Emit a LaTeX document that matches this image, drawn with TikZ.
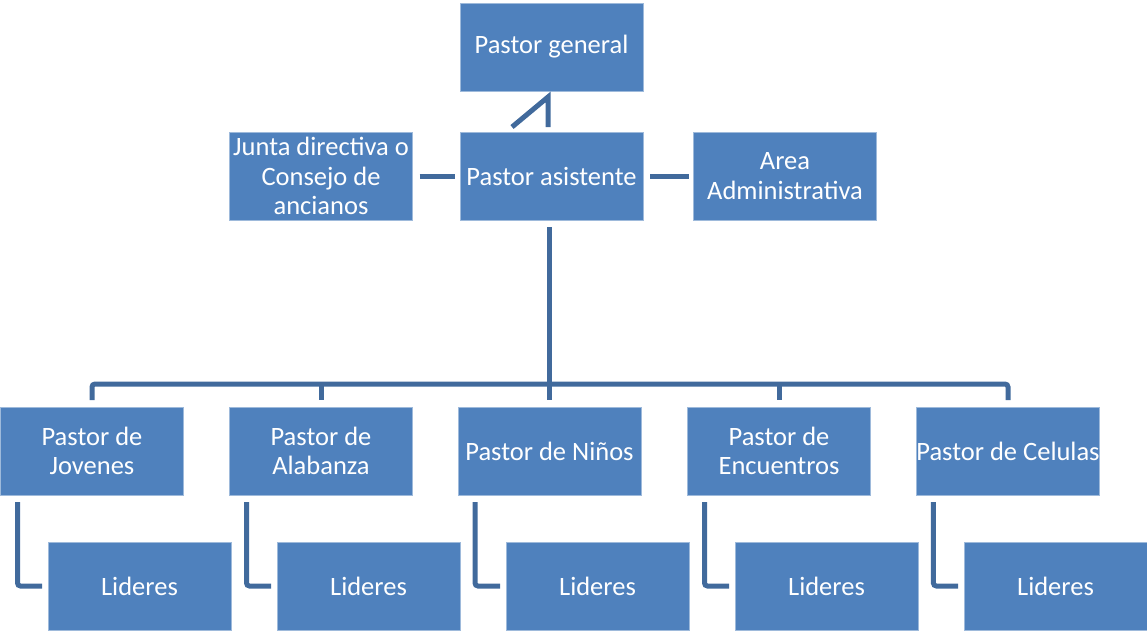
\documentclass[tikz,border=0pt]{standalone}
\usepackage{fontspec}
\setmainfont{Carlito}
\usetikzlibrary{calc}
\definecolor{boxblue}{RGB}{79,129,189}
\definecolor{lineblue}{RGB}{65,106,156}

\begin{document}
\begin{tikzpicture}[x=1pt,y=-1pt,inner sep=0pt,outer sep=0pt,
    every node/.style={font=\fontsize{26.5}{29.5}\selectfont},
    box/.style={fill=boxblue,draw=boxblue!55!white,line width=0.8pt,text=white,
        minimum width=183pt,minimum height=88pt,align=center},
    link/.style={draw=lineblue,line width=5pt,rounded corners=3pt}]
    \useasboundingbox (0,0) rectangle (1147,630);

    % top
    \node[box] (gen) at (551.5, 47) {Pastor general};
    \node[box] (junta) at (321, 176) {Junta directiva o\\Consejo de\\ancianos};
    \node[box] (asist) at (551.5, 176) {Pastor asistente};
    \node[box] (area) at (785, 176) {Area\\Administrativa};

    % pastores
    \node[box] (jov) at (92, 451) {Pastor de\\Jovenes};
    \node[box] (ala) at (321, 451) {Pastor de\\Alabanza};
    \node[box] (nin) at (549.5, 451) {Pastor de Niños};
    \node[box] (enc) at (779, 451) {Pastor de\\Encuentros};
    \node[box] (cel) at (1008, 451) {Pastor de Celulas};

    % lideres
    \node[box] (lid_jov) at (139.5, 586) {Lideres};
    \node[box] (lid_ala) at (368.5, 586) {Lideres};
    \node[box] (lid_nin) at (597.5, 586) {Lideres};
    \node[box] (lid_enc) at (826.5, 586) {Lideres};
    \node[box] (lid_cel) at (1055.5, 586) {Lideres};

    % links
    \draw[link, rounded corners=0pt] ($(asist.north)+(-39.5,-5)$) -- ($(gen.south)+(-3.5,6)$)
        -- ($(asist.north)+(-3.5,-5)$);
    \draw[link] ($(junta.east)+(7,0)$) -- ($(asist.west)+(-5,0)$);
    \draw[link] ($(asist.east)+(7,0)$) -- ($(area.west)+(-5,0)$);

    \coordinate (bus) at (549, 384);
    \draw[link] ($(asist.south)+(-2.5,7)$) -- (bus);
    \draw[link] ($(jov.north)+(0,-7)$) |- (bus) -| ($(cel.north)+(0,-7)$);
    \draw[link] (ala.north |- bus) -- ($(ala.north)+(0,-7)$);
    \draw[link] (nin.north |- bus) -- ($(nin.north)+(0,-7)$);
    \draw[link] (enc.north |- bus) -- ($(enc.north)+(0,-7)$);

    \draw[link] ($(jov.south west)+(17,7)$) |- ($(lid_jov.west)+(-6,0)$);
    \draw[link] ($(ala.south west)+(17,7)$) |- ($(lid_ala.west)+(-6,0)$);
    \draw[link] ($(nin.south west)+(17,7)$) |- ($(lid_nin.west)+(-6,0)$);
    \draw[link] ($(enc.south west)+(17,7)$) |- ($(lid_enc.west)+(-6,0)$);
    \draw[link] ($(cel.south west)+(17,7)$) |- ($(lid_cel.west)+(-6,0)$);
\end{tikzpicture}
\end{document}
